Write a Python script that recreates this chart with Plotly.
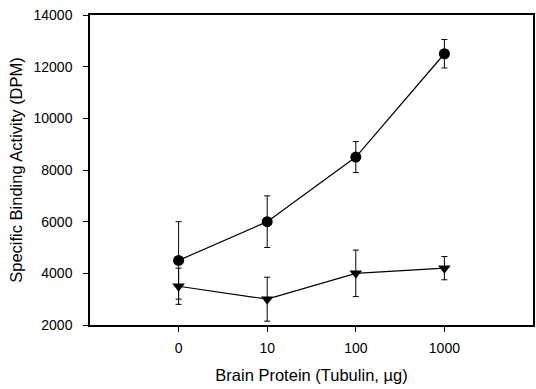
import plotly.graph_objects as go

x_labels = ["0", "10", "100", "1000"]
x_pos = [0, 1, 2, 3]

circle_vals = [4500, 6000, 8500, 12500]
circle_err = [1500, 1000, 600, 550]

tri_vals = [3500, 3000, 4000, 4200]
tri_err = [700, 850, 900, 450]

y_ticks = [2000, 4000, 6000, 8000, 10000, 12000, 14000]
y_labels = [str(v) for v in y_ticks]

fig = go.Figure()
fig.add_trace(go.Scatter(
    x=x_pos, y=circle_vals, mode="lines+markers",
    line=dict(color="black", width=1.2),
    marker=dict(symbol="circle", size=11, color="black"),
    error_y=dict(type="data", array=circle_err, color="black", thickness=1, width=3),
    showlegend=False))
fig.add_trace(go.Scatter(
    x=x_pos, y=tri_vals, mode="lines+markers",
    line=dict(color="black", width=1.2),
    marker=dict(symbol="triangle-down", size=11, color="black"),
    error_y=dict(type="data", array=tri_err, color="black", thickness=1, width=3),
    showlegend=False))

font = "Liberation Sans, Arial, sans-serif"
fig.update_layout(
    width=536, height=389,
    margin=dict(l=90, r=1, t=15, b=64),
    paper_bgcolor="white", plot_bgcolor="white",
    font=dict(family=font, size=14, color="black"),
    xaxis=dict(
        range=[-1, 4], tickmode="array", tickvals=x_pos, ticktext=x_labels,
        showgrid=False, zeroline=False, showline=True, linecolor="black", linewidth=1.5,
        mirror=True, ticks="outside", ticklen=5, tickcolor="black",
        ticklabelstandoff=4,
        title=dict(text="Brain Protein (Tubulin, µg)", font=dict(size=16.5), standoff=15),
    ),
    yaxis=dict(
        range=[2000, 14000], tickmode="array", tickvals=y_ticks, ticktext=y_labels,
        showgrid=False, zeroline=False, showline=True, linecolor="black", linewidth=1.5,
        mirror=True, ticks="outside", ticklen=5, tickcolor="black",
        ticklabelstandoff=8,
        title=dict(text="Specific Binding Activity (DPM)", font=dict(size=16.5), standoff=7),
    ),
)
fig.write_html("out.html")
